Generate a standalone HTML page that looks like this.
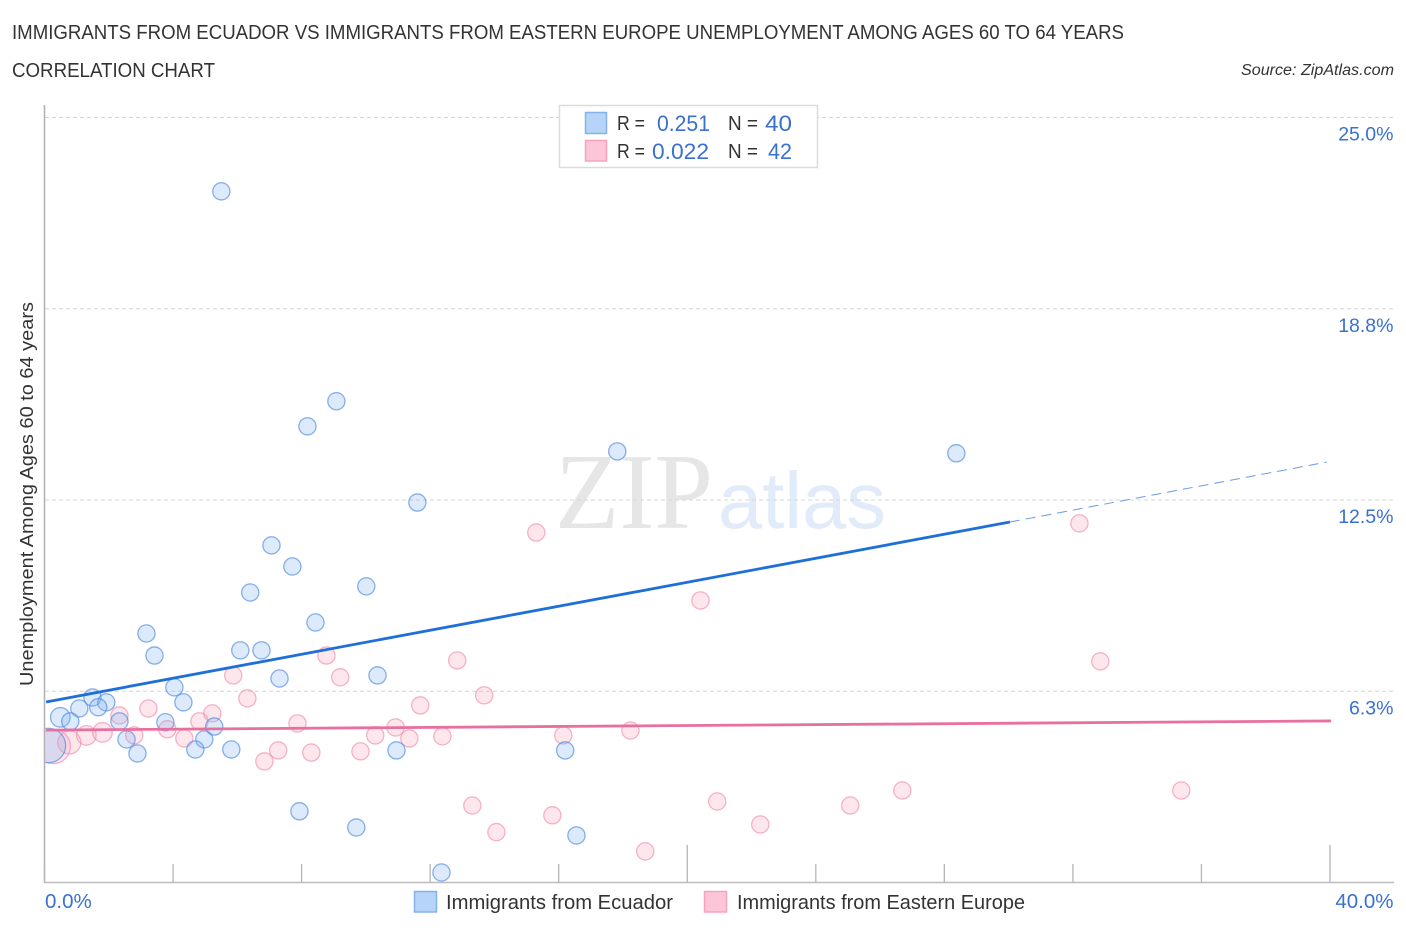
<!DOCTYPE html>
<html lang="en">
<head>
<meta charset="utf-8">
<title>Immigrants from Ecuador vs Immigrants from Eastern Europe Unemployment Correlation Chart</title>
<style>
html,body{margin:0;padding:0;background:#fff;width:1406px;height:930px;overflow:hidden}
svg{display:block}
text{font-family:"Liberation Sans",sans-serif}
.dark{fill:#333}
.blue{fill:#3a70d0}
</style>
</head>
<body>
<svg id="chart" xmlns="http://www.w3.org/2000/svg" width="1406" height="930" viewBox="0 0 1406 930">
  <defs><clipPath id="plot-clip"><rect x="45" y="100" width="1350" height="782"/></clipPath></defs>
  <rect width="1406" height="930" fill="#fff"/>
  <text class="dark" x="12" y="39" font-size="20" textLength="1112" lengthAdjust="spacingAndGlyphs">IMMIGRANTS FROM ECUADOR VS IMMIGRANTS FROM EASTERN EUROPE UNEMPLOYMENT AMONG AGES 60 TO 64 YEARS</text>
  <text class="dark" x="12" y="77" font-size="20" textLength="203" lengthAdjust="spacingAndGlyphs">CORRELATION CHART</text>
  <text class="dark" x="1241" y="75" font-size="15.5" font-style="italic" textLength="153" lengthAdjust="spacingAndGlyphs">Source: ZipAtlas.com</text>
  <g>
    <text x="555" y="528" font-size="108" fill="#e6e6e6" textLength="158" lengthAdjust="spacingAndGlyphs" style="font-family:'Liberation Serif',serif">ZIP</text>
    <text x="718" y="528" font-size="80" fill="#e2ebf9" textLength="168" lengthAdjust="spacingAndGlyphs">atlas</text>
  </g>
  <g id="grid"></g>
  <g id="axes"></g>
  <g id="points" clip-path="url(#plot-clip)" transform="translate(0.4,0.4)"></g>
  <g id="trends"></g>
  <g id="ylabels"></g>
  <g id="xlabels"></g>
  <text class="dark" transform="translate(33,686) rotate(-90)" font-size="18.5" textLength="384" lengthAdjust="spacingAndGlyphs">Unemployment Among Ages 60 to 64 years</text>

  <g>
    <rect x="559.5" y="105.5" width="258" height="62" fill="#fff" stroke="#dcdcdc" stroke-width="1.5"/>
    <rect x="585.5" y="112.5" width="21" height="21" fill="#b6d3f8" stroke="#85b2ea" stroke-width="1.5"/>
    <rect x="585.5" y="140.5" width="21" height="20.5" fill="#fcc5d8" stroke="#f5a3bf" stroke-width="1.5"/>
    <text class="dark" x="617" y="130" font-size="20" textLength="28" lengthAdjust="spacingAndGlyphs">R =</text>
    <text class="blue" x="657" y="131" font-size="22" textLength="53" lengthAdjust="spacingAndGlyphs">0.251</text>
    <text class="dark" x="728" y="130" font-size="20" textLength="30" lengthAdjust="spacingAndGlyphs">N =</text>
    <text class="blue" x="765" y="131" font-size="22" textLength="27" lengthAdjust="spacingAndGlyphs">40</text>
    <text class="dark" x="617" y="158" font-size="20" textLength="28" lengthAdjust="spacingAndGlyphs">R =</text>
    <text class="blue" x="652" y="159" font-size="22" textLength="57" lengthAdjust="spacingAndGlyphs">0.022</text>
    <text class="dark" x="728" y="158" font-size="20" textLength="30" lengthAdjust="spacingAndGlyphs">N =</text>
    <text class="blue" x="768" y="159" font-size="22" textLength="24" lengthAdjust="spacingAndGlyphs">42</text>
  </g>

  <g>
    <rect x="414.5" y="891.5" width="22" height="20.5" fill="#b6d3f8" stroke="#85b2ea" stroke-width="1.5"/>
    <text class="dark" x="446" y="909" font-size="20" textLength="227" lengthAdjust="spacingAndGlyphs">Immigrants from Ecuador</text>
    <rect x="704.5" y="891.5" width="22" height="20.5" fill="#fcc5d8" stroke="#f5a3bf" stroke-width="1.5"/>
    <text class="dark" x="737" y="909" font-size="20" textLength="288" lengthAdjust="spacingAndGlyphs">Immigrants from Eastern Europe</text>
  </g>
</svg>
<script>
const ecuadorX = [5.49,9.07,8.17,17.81,28.36,11.59,7.05,7.70,10.00,6.39,8.42,3.16,6.08,6.74,3.41,10.35,7.30,4.03,1.48,1.91,1.07,1.66,4.31,0.48,0.79,2.32,3.75,5.27,2.54,4.96,2.88,4.68,5.80,10.94,16.19,7.92,9.69,16.54,12.34,0.11];
const ecuadorY = [22.60,15.74,14.92,14.10,14.04,12.43,11.03,10.34,9.69,9.49,8.51,8.15,7.60,7.60,7.43,6.78,6.68,6.39,6.06,5.90,5.70,5.74,5.90,5.41,5.28,5.28,5.25,5.11,4.69,4.69,4.23,4.36,4.36,4.33,4.33,2.34,1.81,1.55,0.34,4.49];
const ecuadorWeight = [1,1,1,1,1,1,1,1,1,1,1,1,1,1,1,1,1,1,1,1,1,1,1,1.3,1,1,1,1,1,1,1,1,1,1,1,1,1,1,1,4];
const europeX = [32.19,15.29,20.40,32.84,8.76,12.83,5.86,9.19,13.67,6.30,11.68,3.22,5.21,2.32,4.81,7.86,10.91,3.81,18.22,2.78,1.29,1.79,4.34,10.28,12.37,16.13,11.34,7.26,8.29,9.82,6.83,13.30,20.92,26.68,35.36,25.06,15.79,22.26,14.05,18.68,0.76,0.26];
const europeY = [11.75,11.45,9.23,7.24,7.43,7.27,6.78,6.72,6.13,6.03,5.80,5.70,5.54,5.47,5.28,5.21,5.08,5.02,4.98,4.82,4.82,4.92,4.72,4.82,4.79,4.82,4.72,4.33,4.26,4.30,3.97,2.53,2.66,3.02,3.02,2.53,2.21,1.91,1.66,1.03,4.59,4.46];
const europeWeight = [1,1,1,1,1,1,1,1,1,1,1,1,1,1,1,1,1,1,1,1,1.3,1.3,1,1,1,1,1,1,1,1,1,1,1,1,1,1,1,1,1,1,1.8,4];
const ecuadorTrendX = [0.05,30.04];
const ecuadorTrendY = [5.90,11.78];
const ecuadorForecastX = [30.04,39.90];
const ecuadorForecastY = [11.78,13.74];
const europeTrendX = [0.05,40.03];
const europeTrendY = [4.98,5.28];
const yTicks = [25,18.75,12.5,6.25];
const yTickLabels = ['25.0%','18.8%','12.5%','6.3%'];
const xTicks = [0,4,8,12,16,20,24,28,32,36,40];
const xMajorTicks = [20,40];
const xEdgeTicks = [0,40];
const xEdgeLabels = ['0.0%','40.0%'];

const NS = 'http://www.w3.org/2000/svg';
const xMin = 0, xMax = 40, yMin = 0, yMax = 25;
const xScale = v => 44.5 + (v - xMin) / (xMax - xMin) * 1285.5;
const yScale = v => 882.5 - (v - yMin) / (yMax - yMin) * 765;
function make(tag, parent, props) {
  const el = document.createElementNS(NS, tag);
  for (const k in props) el.setAttribute(k, props[k]);
  document.getElementById(parent).appendChild(el);
  return el;
}

yTicks.forEach((t, i) => {
  const line = make('line', 'grid', {x1: 45, x2: 1394, y1: yScale(t), y2: yScale(t), stroke: '#d6d6d6', 'stroke-width': 1, 'stroke-dasharray': '4 3'});
  
  
  const label = make('text', 'ylabels', {x: 1393.5, y: yScale(t) + 23, 'text-anchor': 'end', 'font-size': 19.5, class: 'blue'});
  label.textContent = yTickLabels[i];
  
  
});

const yAxis = make('line', 'axes', {x1: 44.5, x2: 44.5, y1: 105, y2: 883, stroke: '#b0b0b0', 'stroke-width': 1.5});


const xAxis = make('line', 'axes', {x1: 44, x2: 1394, y1: 882.5, y2: 882.5, stroke: '#bdbdbd', 'stroke-width': 1.5});


xTicks.forEach(t => {
  const top = xMajorTicks.includes(t) ? 845 : 864;
  const tick = make('line', 'axes', {x1: xScale(t), x2: xScale(t), y1: top, y2: 882, stroke: '#b5b5b5', 'stroke-width': 1.3});
  
  
});
xEdgeTicks.forEach((t, i) => {
  const label = make('text', 'xlabels', {x: i === 0 ? 45 : 1393.5, y: 908, 'text-anchor': i === 0 ? 'start' : 'end', 'font-size': 20.5, class: 'blue'});
  label.textContent = xEdgeLabels[i];
  
  
});

europeX.forEach((v, i) => {
  const c = make('circle', 'points', {cx: xScale(v), cy: yScale(europeY[i]), r: 8.6 * Math.sqrt(europeWeight[i]), fill: 'rgba(247,165,190,.27)', stroke: 'rgba(240,140,172,.65)', 'stroke-width': 1.3});
  
  
});
ecuadorX.forEach((v, i) => {
  const c = make('circle', 'points', {cx: xScale(v), cy: yScale(ecuadorY[i]), r: 8.6 * Math.sqrt(ecuadorWeight[i]), fill: 'rgba(125,178,240,.27)', stroke: 'rgba(75,135,225,.65)', 'stroke-width': 1.3});
  
  
});

const forecast = make('line', 'trends', {x1: xScale(ecuadorForecastX[0]), y1: yScale(ecuadorForecastY[0]), x2: xScale(ecuadorForecastX[1]), y2: yScale(ecuadorForecastY[1]), stroke: '#6b9bdf', 'stroke-width': 1, 'stroke-dasharray': '10 6'});


const trendA = make('line', 'trends', {x1: xScale(ecuadorTrendX[0]), y1: yScale(ecuadorTrendY[0]), x2: xScale(ecuadorTrendX[1]), y2: yScale(ecuadorTrendY[1]), stroke: '#1f6fd8', 'stroke-width': 2.8});


const trendB = make('line', 'trends', {x1: xScale(europeTrendX[0]), y1: yScale(europeTrendY[0]), x2: xScale(europeTrendX[1]), y2: yScale(europeTrendY[1]), stroke: '#e8709f', 'stroke-width': 2.8});


</script>
</body>
</html>
